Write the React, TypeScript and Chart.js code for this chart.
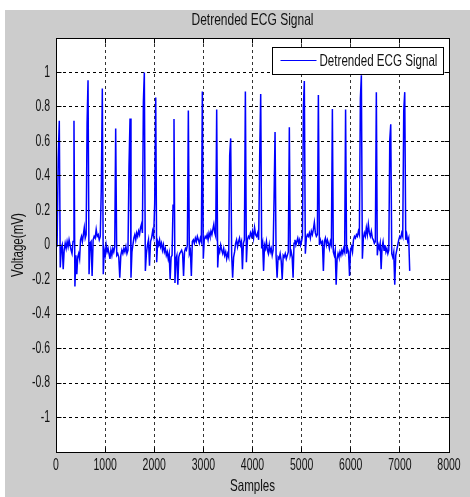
import React, { useEffect, useRef } from "react";
import { Chart, registerables } from "chart.js";

Chart.register(...registerables);

const FONT = "'Liberation Sans', Arial, sans-serif";
const FIGURE_GRAY = "#cccccc";
const TEXT_COLOR = "#111111";
const LINE_COLOR = "#0000ff";
const CAP_HEIGHT_PX = 11.5; // glyphs in the reference are tall and narrow

const chartTitle = "Detrended ECG Signal";
const xAxisTitle = "Samples";
const yAxisTitle = "Voltage(mV)";
const seriesLabel = "Detrended ECG Signal";

const xTicks = [0, 1000, 2000, 3000, 4000, 5000, 6000, 7000, 8000];
const yTicks = [-1, -0.8, -0.6, -0.4, -0.2, 0, 0.2, 0.4, 0.6, 0.8, 1];
const xRange = [0, 8000];
const yRange = [-1.2, 1.2];
const lastSample = 7200;

// R-peak positions (samples) and amplitudes (mV)
const peakSamples = [67, 366, 652, 943, 1215, 1507, 1798, 2030, 2402, 2694, 2979, 3271, 3556, 3855, 4167, 4459, 4750, 5055, 5341, 5626, 5895, 6216, 6521, 6814, 7099];
const peakValues = [0.72, 0.72, 0.955, 0.907, 0.675, 0.733, 1.0, 0.855, 0.73, 0.78, 0.89, 0.786, 0.618, 0.89, 0.875, 0.655, 0.683, 0.95, 0.87, 0.788, 0.785, 0.984, 0.886, 0.7, 0.886];

// signal before the first peak
const leadValues = [0.087, -0.01, 0.5];

// signal between consecutive peaks (mV)
const beatCycles = [
  [-0.13, -0.02, 0.0, -0.14, -0.03, 0.01, -0.02, 0.02, -0.01, 0.03, 0.0, -0.03, -0.05, 0.02],
  [-0.24, -0.06, -0.17, -0.07, -0.05, -0.08, 0.03, 0.05, 0.02, 0.06, 0.1, 0.04, 0.06, 0.71],
  [-0.17, 0.01, 0.02, -0.18, 0.03, 0.05, 0.04, 0.09, 0.05, 0.06, 0.03, 0.05, 0.33],
  [-0.17, -0.03, -0.06, 0.0, -0.04, -0.02, -0.05, -0.08, -0.03, -0.06, -0.02, -0.04, -0.01],
  [-0.06, -0.05, -0.07, -0.19, -0.06, -0.03, -0.05, -0.02, -0.04, -0.01, -0.05, -0.03, 0.46],
  [-0.19, -0.04, 0.0, 0.04, 0.06, 0.03, 0.07, 0.05, 0.08, 0.06, 0.1, 0.12, 0.07, 0.83],
  [-0.15, -0.05, 0.0, 0.03, -0.12, 0.02, 0.04, 0.08, 0.05, 0.24],
  [-0.1, 0.02, 0.0, 0.03, -0.01, 0.01, -0.03, 0.0, -0.04, -0.02, -0.06, -0.04, -0.08, -0.05, -0.2, -0.07, -0.06, 0.23],
  [-0.22, -0.08, -0.06, -0.23, -0.07, -0.05, -0.04, -0.03, -0.05, -0.18, -0.04, -0.02, -0.03, 0.0],
  [-0.05, -0.03, -0.18, 0.02, 0.03, 0.01, 0.04, 0.02, 0.05, 0.03, 0.01, 0.04, 0.02],
  [-0.08, 0.03, 0.05, 0.04, 0.06, 0.03, 0.07, 0.05, 0.08, 0.06, 0.09, 0.12, 0.07, 0.05],
  [-0.13, -0.02, -0.04, 0.0, -0.03, -0.05, -0.02, -0.06, -0.04, -0.08, -0.05, -0.07, 0.52],
  [-0.06, -0.19, -0.07, -0.04, 0.01, 0.03, -0.01, 0.02, 0.04, 0.0, 0.02, -0.14, 0.01, 0.03],
  [-0.1, 0.03, 0.05, 0.04, 0.07, 0.05, 0.08, 0.04, 0.1, 0.06, 0.05, 0.07, 0.03, 0.51],
  [-0.02, 0.01, -0.15, 0.0, -0.02, 0.02, -0.03, -0.05, 0.0, -0.04, -0.02, -0.06, -0.03, 0.28],
  [-0.06, -0.19, -0.07, -0.08, -0.05, -0.09, -0.2, -0.06, -0.07, -0.05, -0.08, -0.06, -0.04],
  [-0.06, -0.04, -0.07, -0.19, 0.01, 0.03, 0.0, 0.02, 0.04, 0.01, 0.03, 0.0, 0.02, 0.05, 0.8],
  [-0.05, 0.04, 0.06, 0.05, 0.07, 0.04, 0.08, 0.06, 0.09, 0.13, 0.07, 0.05, 0.06],
  [0.0, 0.03, 0.01, 0.02, -0.15, 0.02, 0.04, 0.0, 0.03, 0.01, -0.02, 0.02, 0.0],
  [-0.04, -0.06, -0.03, -0.23, -0.08, -0.05, -0.07, -0.04, -0.06, -0.03, -0.05, -0.02, -0.04],
  [-0.05, -0.02, -0.04, -0.18, -0.03, -0.01, -0.04, 0.03, 0.05, 0.04, 0.06, 0.05, 0.08, 0.06, 0.85],
  [-0.08, 0.04, 0.07, 0.05, 0.1, 0.06, 0.12, 0.07, 0.05, 0.08, 0.04, 0.03, 0.01, 0.02],
  [-0.06, 0.0, -0.02, 0.01, -0.14, -0.01, 0.02, -0.03, 0.0, -0.04, -0.02, -0.05, -0.03, 0.61],
  [-0.05, -0.07, -0.04, -0.23, -0.06, -0.03, 0.0, 0.03, 0.05, 0.04, 0.07, 0.05, 0.78],
];

// signal after the last peak
const tailValues = [0.03, 0.06, 0.02, 0.04, -0.15];

function buildSignal() {
  const pts: { x: number; y: number }[] = [];
  const first = peakSamples[0];
  leadValues.forEach((v, j) => pts.push({ x: (j * first) / leadValues.length, y: v }));
  pts.push({ x: first, y: peakValues[0] });
  for (let k = 0; k < beatCycles.length; k++) {
    const sa = peakSamples[k];
    const sb = peakSamples[k + 1];
    const seg = beatCycles[k];
    seg.forEach((v, j) => pts.push({ x: sa + ((j + 1) * (sb - sa)) / (seg.length + 1), y: v }));
    pts.push({ x: sb, y: peakValues[k + 1] });
  }
  const sl = peakSamples[peakSamples.length - 1];
  tailValues.forEach((v, j) => pts.push({ x: sl + ((j + 1) * (lastSample - sl)) / tailValues.length, y: v }));
  return pts;
}

const align = (p: number) => Math.round(p - 0.5) + 0.5;

// Text in the reference is drawn tall and narrow: stretch glyphs vertically around their anchor.
function stretchText(ctx: CanvasRenderingContext2D) {
  const orig = ctx.fillText.bind(ctx);
  (ctx as any).fillText = (text: string, x: number, y: number, maxWidth?: number) => {
    const m = /([\d.]+)px/.exec(ctx.font);
    const size = m ? parseFloat(m[1]) : 12;
    const k = CAP_HEIGHT_PX / (0.716 * size);
    ctx.save();
    ctx.translate(x, y);
    ctx.scale(1, k);
    if (maxWidth !== undefined) orig(text, 0, 0, maxWidth);
    else orig(text, 0, 0);
    ctx.restore();
  };
}

const axesFramePlugin = {
  id: "axesFrame",
  beforeDraw(chart: any) {
    const { ctx, chartArea: a } = chart;
    ctx.save();
    ctx.fillStyle = "#ffffff";
    ctx.fillRect(0, 0, chart.width, chart.height);
    ctx.fillStyle = FIGURE_GRAY;
    ctx.fillRect(5, 10, chart.width - 5, chart.height - 10);
    ctx.fillStyle = "#ffffff";
    ctx.fillRect(a.left, a.top, a.right - a.left, a.bottom - a.top);
    ctx.restore();
  },
  afterDatasetsDraw(chart: any) {
    const { ctx, chartArea: a, scales } = chart;
    const L = align(a.left), R = align(a.right), T = align(a.top), B = align(a.bottom);
    ctx.save();
    ctx.setLineDash([]);
    ctx.strokeStyle = "#000000";
    ctx.lineWidth = 1;
    ctx.beginPath();
    ctx.rect(L, T, R - L, B - T);
    const tl = 5;
    for (const v of xTicks) {
      const px = align(scales.x.getPixelForValue(v));
      ctx.moveTo(px, B);
      ctx.lineTo(px, B - tl);
      ctx.moveTo(px, T);
      ctx.lineTo(px, T + tl);
    }
    for (const v of yTicks) {
      const py = align(scales.y.getPixelForValue(v));
      ctx.moveTo(L, py);
      ctx.lineTo(L + tl, py);
      ctx.moveTo(R, py);
      ctx.lineTo(R - tl, py);
    }
    ctx.stroke();

    // legend box
    ctx.font = `11.6px ${FONT}`;
    const tw = ctx.measureText(seriesLabel).width;
    const boxW = Math.round(8 + 36 + 3 + tw + 6);
    const boxH = 27;
    const boxRight = R - 6;
    const boxLeft = boxRight - boxW;
    const boxTop = T + 9;
    ctx.fillStyle = "#ffffff";
    ctx.fillRect(boxLeft, boxTop, boxW, boxH);
    ctx.strokeStyle = "#000000";
    ctx.strokeRect(boxLeft, boxTop, boxW, boxH);
    const midY = Math.round(boxTop + boxH / 2) - 0.5;
    ctx.strokeStyle = LINE_COLOR;
    ctx.beginPath();
    ctx.moveTo(boxLeft + 8, midY);
    ctx.lineTo(boxLeft + 44, midY);
    ctx.stroke();
    ctx.fillStyle = TEXT_COLOR;
    ctx.textBaseline = "middle";
    ctx.textAlign = "left";
    ctx.fillText(seriesLabel, boxLeft + 47, boxTop + boxH / 2 + 0.5);
    ctx.restore();
  },
};

export default function App() {
  const canvasRef = useRef<HTMLCanvasElement | null>(null);

  useEffect(() => {
    document.body.style.margin = "0";
    const canvas = canvasRef.current;
    if (!canvas) return;
    const ctx2d = canvas.getContext("2d");
    if (ctx2d) stretchText(ctx2d);
    const chart = new Chart(canvas, {
      type: "line",
      data: {
        datasets: [
          {
            label: seriesLabel,
            data: buildSignal(),
            borderColor: LINE_COLOR,
            borderWidth: 1.5,
            pointRadius: 0,
            tension: 0,
            fill: false,
          },
        ],
      },
      options: {
        animation: false,
        responsive: false,
        events: [],
        parsing: false,
        layout: { padding: { left: 0, top: 0, right: 21, bottom: 0 } },
        plugins: {
          legend: { display: false },
          tooltip: { enabled: false },
          title: {
            display: true,
            text: chartTitle,
            fullSize: false,
            color: TEXT_COLOR,
            font: { family: FONT, size: 12, weight: "normal" },
            padding: { top: 13.5, bottom: 10.1 },
          },
        },
        scales: {
          x: {
            type: "linear",
            min: xRange[0],
            max: xRange[1],
            afterBuildTicks: (scale: any) => {
              scale.ticks = xTicks.map((v) => ({ value: v }));
            },
            afterFit: (scale: any) => {
              scale.height = 45;
            },
            ticks: {
              autoSkip: false,
              maxRotation: 0,
              padding: 7.7,
              color: TEXT_COLOR,
              font: { family: FONT, size: 10.5 },
              callback: (v: any) => String(v),
            },
            grid: {
              display: true,
              drawTicks: false,
              color: "rgba(0,0,0,0.8)",
              lineWidth: 1,
            },
            border: { display: true, color: "#000000", width: 1, dash: [3, 3] },
            title: {
              display: true,
              text: xAxisTitle,
              color: TEXT_COLOR,
              font: { family: FONT, size: 11.6 },
              padding: { top: 0, bottom: 3.3 },
            },
          },
          y: {
            type: "linear",
            min: yRange[0],
            max: yRange[1],
            afterBuildTicks: (scale: any) => {
              scale.ticks = yTicks.map((v) => ({ value: v }));
            },
            afterFit: (scale: any) => {
              scale.width = 56;
            },
            ticks: {
              padding: 6,
              color: TEXT_COLOR,
              font: { family: FONT, size: 10.5 },
              callback: (v: any) => String(Math.round(Number(v) * 10) / 10),
            },
            grid: {
              display: true,
              drawTicks: false,
              color: "#000000",
              lineWidth: 1,
            },
            border: { display: true, color: "#000000", width: 1, dash: [3, 3] },
            title: {
              display: true,
              text: yAxisTitle,
              color: TEXT_COLOR,
              font: { family: FONT, size: 11.6 },
              padding: { top: 12, bottom: 0 },
            },
          },
        },
      },
      plugins: [axesFramePlugin],
    } as any);
    return () => chart.destroy();
  }, []);

  return (
    <div style={{ width: 470, height: 497 }}>
      <canvas ref={canvasRef} width={470} height={497} style={{ display: "block" }} />
    </div>
  );
}
